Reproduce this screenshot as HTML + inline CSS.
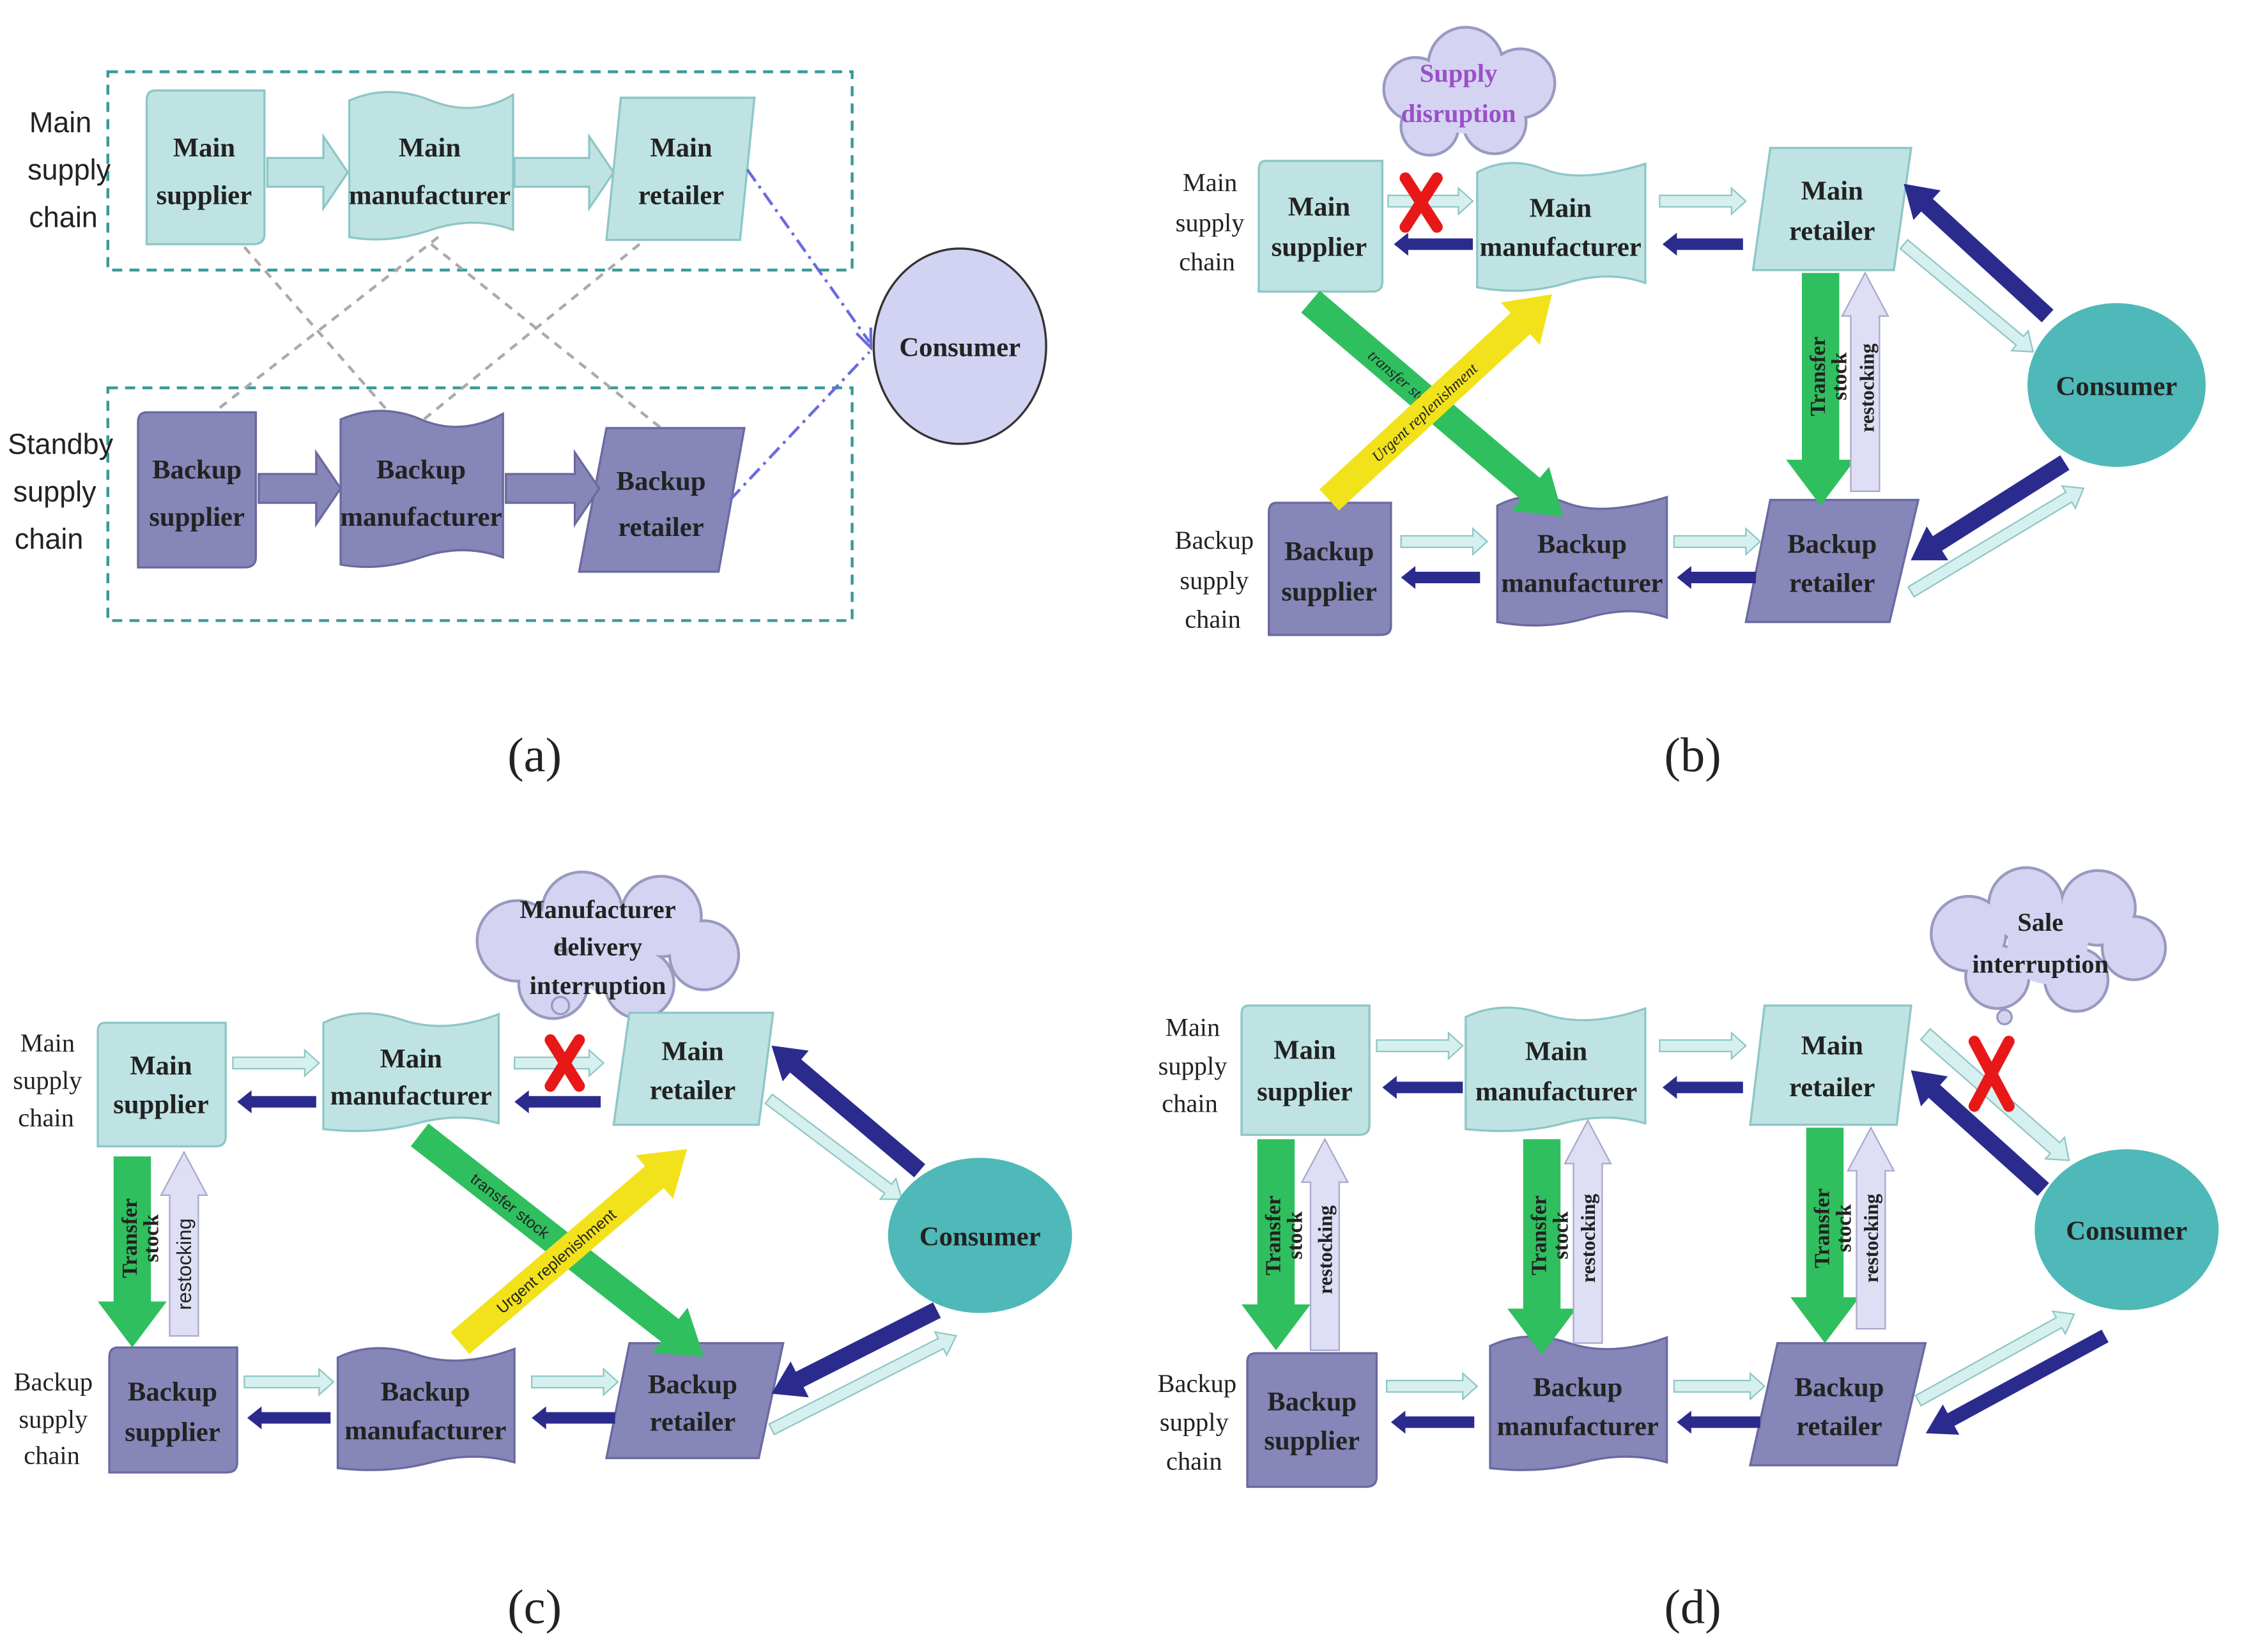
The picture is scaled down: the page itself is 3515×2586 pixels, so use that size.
<!DOCTYPE html>
<html><head><meta charset="utf-8"><style>
html,body{margin:0;padding:0;background:#fff;width:3515px;height:2586px;overflow:hidden}
svg{display:block}
text{font-family:"Liberation Serif",serif;fill:#222;text-anchor:middle}
.lb{font-size:19px;font-weight:bold}
.m{fill:#bfe3e3;stroke:#8fc6c6;stroke-width:1.5}
.b{fill:#8686b8;stroke:#6a6aa0;stroke-width:1.5}
.la{fill:#d6efef;stroke:#8fc6c6;stroke-width:1}
.da{fill:#2b2b8e}
.gr{fill:#2fbf5f}
.ye{fill:#f2e21c}
.lu{fill:#dedef4;stroke:#a8a8cc;stroke-width:1}
.cap{font-size:34px}
.cl circle{fill:#d4d4f2}
.sa text{font-family:"Liberation Sans",sans-serif;font-size:20px;fill:#222}
</style></head><body>
<svg width="3515" height="2586" viewBox="0 0 1563 1150" xmlns="http://www.w3.org/2000/svg">
<rect width="1563" height="1150" fill="#fff"/>

<!-- ================= (a) ================= -->
<rect x="75" y="50" width="518" height="138" fill="none" stroke="#3a9a9a" stroke-width="2" stroke-dasharray="7,5"/>
<rect x="75" y="270" width="518" height="162" fill="none" stroke="#3a9a9a" stroke-width="2" stroke-dasharray="7,5"/>
<g class="sa"><text x="42" y="92">Main</text><text x="48" y="125">supply</text><text x="44" y="158">chain</text>
<text x="42" y="316">Standby</text><text x="38" y="349">supply</text><text x="34" y="382">chain</text></g>
<g stroke="#aaa" stroke-width="2" stroke-dasharray="6,5" fill="none">
<line x1="170" y1="172" x2="282" y2="300"/><line x1="305" y1="165" x2="145" y2="290"/>
<line x1="300" y1="170" x2="460" y2="298"/><line x1="445" y1="170" x2="285" y2="300"/>
</g>
<path class="m" d="M108,63 H184 V163 Q184,170 176,170 H102 V70 Q102,63 108,63Z"/>
<path class="m" d="M243,70 Q270,58 300,70 T357,66 V160 Q330,150 300,160 T243,165Z"/>
<polygon class="m" points="432,68 525,68 515,167 422,167"/>
<polygon class="m" points="186,110 225,110 225,95 242,120 225,145 225,130 186,130"/>
<polygon class="m" points="358,110 410,110 410,95 427,120 410,145 410,130 358,130"/>
<path class="b" d="M102,287 H178 V388 Q178,395 170,395 H96 V294 Q96,287 102,287Z"/>
<path class="b" d="M237,292 Q265,280 293,292 T350,288 V388 Q322,378 293,388 T237,393Z"/>
<polygon class="b" points="422,298 518,298 500,398 403,398"/>
<polygon class="b" points="180,330 220,330 220,315 237,340 220,365 220,350 180,350"/>
<polygon class="b" points="352,330 400,330 400,315 417,340 400,365 400,350 352,350"/>
<g class="lb"><text x="142" y="109">Main</text><text x="142" y="142">supplier</text>
<text x="299" y="109">Main</text><text x="299" y="142">manufacturer</text>
<text x="474" y="109">Main</text><text x="474" y="142">retailer</text>
<text x="137" y="333">Backup</text><text x="137" y="366">supplier</text>
<text x="293" y="333">Backup</text><text x="293" y="366">manufacturer</text>
<text x="460" y="341">Backup</text><text x="460" y="373">retailer</text></g>
<g stroke="#6a6ae0" stroke-width="2" stroke-dasharray="10,4,2,4" fill="none">
<line x1="520" y1="118" x2="605" y2="238"/><line x1="508" y1="348" x2="605" y2="245"/></g>
<polyline points="596,232 606,242 606,228" fill="none" stroke="#6a6ae0" stroke-width="2"/>
<ellipse cx="668" cy="241" rx="60" ry="68" fill="#d2d2f2" stroke="#333" stroke-width="1.5"/>
<text class="lb" x="668" y="248">Consumer</text>
<text class="cap" x="372" y="537">(a)</text>

<!-- ================= (b) ================= -->
<g class="cl"><circle cx="985" cy="62" r="22" stroke="#9a9ac0" stroke-width="2"/><circle cx="1020" cy="45" r="26" stroke="#9a9ac0" stroke-width="2"/><circle cx="1058" cy="58" r="24" stroke="#9a9ac0" stroke-width="2"/><circle cx="1040" cy="85" r="22" stroke="#9a9ac0" stroke-width="2"/><circle cx="995" cy="88" r="20" stroke="#9a9ac0" stroke-width="2"/><circle cx="985" cy="62" r="21"/><circle cx="1020" cy="45" r="25"/><circle cx="1058" cy="58" r="23"/><circle cx="1040" cy="85" r="21"/><circle cx="995" cy="88" r="19"/><circle cx="1020" cy="68" r="25"/></g>
<text x="1015" y="57" style="font-size:18px;fill:#9a50c8;font-weight:bold">Supply</text>
<text x="1015" y="85" style="font-size:18px;fill:#9a50c8;font-weight:bold">disruption</text>
<g class="sa" style="font-size:18px"><text x="842" y="133" style="font-family:'Liberation Serif',serif;font-size:18px">Main</text><text x="842" y="161" style="font-family:'Liberation Serif',serif;font-size:18px">supply</text><text x="840" y="188" style="font-family:'Liberation Serif',serif;font-size:18px">chain</text>
<text x="845" y="382" style="font-family:'Liberation Serif',serif;font-size:18px">Backup</text><text x="845" y="410" style="font-family:'Liberation Serif',serif;font-size:18px">supply</text><text x="844" y="437" style="font-family:'Liberation Serif',serif;font-size:18px">chain</text></g>
<path class="m" d="M881,112 H962 V196 Q962,203 955,203 H876 V118 Q876,112 881,112Z"/>
<path class="m" d="M1028,120 Q1050,108 1075,118 T1145,114 V197 Q1120,188 1090,197 T1028,200Z"/>
<polygon class="m" points="1232,103 1330,103 1318,188 1220,188"/>
<path class="b" d="M888,350 H968 V436 Q968,442 961,442 H883 V357 Q883,350 888,350Z"/>
<path class="b" d="M1042,352 Q1065,340 1090,350 T1160,346 V430 Q1135,421 1105,430 T1042,433Z"/>
<polygon class="b" points="1232,348 1335,348 1315,433 1215,433"/>
<polygon class="la" points="966,136 1015,136 1015,131 1025,140 1015,149 1015,144 966,144"/>
<polygon class="da" points="1025,166 980,166 980,162 970,170 980,178 980,174 1025,174"/>
<polygon class="la" points="1155,136 1205,136 1205,131 1215,140 1205,149 1205,144 1155,144"/>
<polygon class="da" points="1213,166 1167,166 1167,162 1157,170 1167,178 1167,174 1213,174"/>
<polygon class="la" points="975,373 1025,373 1025,368 1035,377 1025,386 1025,381 975,381"/>
<polygon class="da" points="1030,398 985,398 985,394 975,402 985,410 985,406 1030,406"/>
<polygon class="la" points="1165,373 1215,373 1215,368 1225,377 1215,386 1215,381 1165,381"/>
<polygon class="da" points="1222,398 1177,398 1177,394 1167,402 1177,410 1177,406 1222,406"/>
<g transform="translate(912,210) rotate(40.4)"><polygon class="gr" points="0,-10 201,-10 201,-20 231,0 201,20 201,10 0,10"/><text x="85" y="4" style="font-size:11px;font-style:italic">transfer stock</text></g>
<g transform="translate(925,348) rotate(-42.7)"><polygon class="ye" points="0,-10 181,-10 181,-20 211,0 181,20 181,10 0,10"/><text x="90" y="4" style="font-size:11px;font-style:italic">Urgent replenishment</text></g>
<g transform="translate(1267,190) rotate(90)"><polygon class="gr" points="0,-13 130,-13 130,-24 162,0 130,24 130,13 0,13"/></g>
<g transform="translate(1298,342) rotate(-90)"><polygon class="lu" points="0,-10 122,-10 122,-16 152,0 122,16 122,10 0,10"/></g>
<text transform="translate(1270,262) rotate(-90)" style="font-size:15px;font-weight:bold">Transfer</text>
<text transform="translate(1285,262) rotate(-90)" style="font-size:15px;font-weight:bold">stock</text>
<text transform="translate(1304,270) rotate(-90)" style="font-size:14px;font-weight:bold">restocking</text>
<g transform="translate(1425,220) rotate(-137.4)"><polygon class="da" points="0,-6 114,-6 114,-14 136,0 114,14 114,6 0,6"/></g>
<g transform="translate(1325,170) rotate(39.8)"><polygon class="la" points="0,-4 105,-4 105,-9 117,0 105,9 105,4 0,4"/></g>
<g transform="translate(1437,322) rotate(147.6)"><polygon class="da" points="0,-6 105,-6 105,-14 127,0 105,14 105,6 0,6"/></g>
<g transform="translate(1330,412) rotate(-31)"><polygon class="la" points="0,-4 128,-4 128,-9 140,0 128,9 128,4 0,4"/></g>
<ellipse cx="1473" cy="268" rx="62" ry="57" fill="#4fb8b8"/>
<g class="lb"><text x="918" y="150">Main</text><text x="918" y="178">supplier</text>
<text x="1086" y="151">Main</text><text x="1086" y="178">manufacturer</text>
<text x="1275" y="139">Main</text><text x="1275" y="167">retailer</text>
<text x="925" y="390">Backup</text><text x="925" y="418">supplier</text>
<text x="1101" y="385">Backup</text><text x="1101" y="412">manufacturer</text>
<text x="1275" y="385">Backup</text><text x="1275" y="412">retailer</text>
<text x="1473" y="275">Consumer</text></g>
<g stroke="#e81818" stroke-width="8" stroke-linecap="round"><line x1="978" y1="124" x2="1000" y2="158"/><line x1="1000" y1="124" x2="978" y2="158"/></g>
<text class="cap" x="1178" y="537">(b)</text>

<!-- ================= (c) ================= -->
<g class="cl"><circle cx="360" cy="655" r="28" stroke="#9a9ac0" stroke-width="2"/><circle cx="405" cy="635" r="28" stroke="#9a9ac0" stroke-width="2"/><circle cx="460" cy="638" r="28" stroke="#9a9ac0" stroke-width="2"/><circle cx="490" cy="665" r="24" stroke="#9a9ac0" stroke-width="2"/><circle cx="445" cy="685" r="24" stroke="#9a9ac0" stroke-width="2"/><circle cx="385" cy="685" r="24" stroke="#9a9ac0" stroke-width="2"/><circle cx="360" cy="655" r="27"/><circle cx="405" cy="635" r="27"/><circle cx="460" cy="638" r="27"/><circle cx="490" cy="665" r="23"/><circle cx="445" cy="685" r="23"/><circle cx="385" cy="685" r="23"/><circle cx="425" cy="662" r="30"/><circle cx="390" cy="700" r="6" stroke="#9a9ac0" stroke-width="1.5"/></g>
<g class="lb" style="font-size:18px"><text x="416" y="639">Manufacturer</text><text x="416" y="665">delivery</text><text x="416" y="692">interruption</text></g>
<g style="font-size:18px"><text x="33" y="732">Main</text><text x="33" y="758">supply</text><text x="32" y="784">chain</text>
<text x="37" y="968">Backup</text><text x="37" y="994">supply</text><text x="36" y="1019">chain</text></g>
<path class="m" d="M73,712 H157 V791 Q157,798 150,798 H68 V718 Q68,712 73,712Z"/>
<path class="m" d="M225,712 Q250,700 280,710 T347,706 V782 Q320,774 290,782 T225,786Z"/>
<polygon class="m" points="438,705 538,705 528,783 427,783"/>
<path class="b" d="M82,938 H165 V1018 Q165,1025 158,1025 H76 V945 Q76,938 82,938Z"/>
<path class="b" d="M235,945 Q260,933 290,943 T358,939 V1018 Q330,1010 300,1018 T235,1022Z"/>
<polygon class="b" points="438,935 545,935 528,1015 422,1015"/>
<polygon class="la" points="162,736 212,736 212,731 222,740 212,749 212,744 162,744"/>
<polygon class="da" points="220,763 175,763 175,759 165,767 175,775 175,771 220,771"/>
<polygon class="la" points="358,736 410,736 410,731 420,740 410,749 410,744 358,744"/>
<polygon class="da" points="418,763 368,763 368,759 358,767 368,775 368,771 418,771"/>
<polygon class="la" points="170,958 222,958 222,953 232,962 222,971 222,966 170,966"/>
<polygon class="da" points="230,983 182,983 182,979 172,987 182,995 182,991 230,991"/>
<polygon class="la" points="370,958 420,958 420,953 430,962 420,971 420,966 370,966"/>
<polygon class="da" points="428,983 380,983 380,979 370,987 380,995 380,991 428,991"/>
<g transform="translate(92,805) rotate(90)"><polygon class="gr" points="0,-13 101,-13 101,-24 133,0 101,24 101,13 0,13"/></g>
<g transform="translate(128,930) rotate(-90)"><polygon class="lu" points="0,-10 98,-10 98,-16 128,0 98,16 98,10 0,10"/></g>
<text transform="translate(95,862) rotate(-90)" style="font-size:15px;font-weight:bold">Transfer</text>
<text transform="translate(110,862) rotate(-90)" style="font-size:15px;font-weight:bold">stock</text>
<text transform="translate(133,880) rotate(-90)" style="font-size:14px;font-family:'Liberation Sans',sans-serif">restocking</text>
<g transform="translate(292,790) rotate(38)"><polygon class="gr" points="0,-10 221,-10 221,-20 251,0 221,20 221,10 0,10"/><text x="80" y="4" style="font-size:11px;font-family:'Liberation Sans',sans-serif">transfer stock</text></g>
<g transform="translate(320,935) rotate(-40.5)"><polygon class="ye" points="0,-10 178,-10 178,-20 208,0 178,20 178,10 0,10"/><text x="88" y="4" style="font-size:11px;font-family:'Liberation Sans',sans-serif">Urgent replenishment</text></g>
<g transform="translate(640,815) rotate(-139.8)"><polygon class="da" points="0,-6 113,-6 113,-14 135,0 113,14 113,6 0,6"/></g>
<g transform="translate(535,765) rotate(37)"><polygon class="la" points="0,-4 104,-4 104,-9 116,0 104,9 104,4 0,4"/></g>
<g transform="translate(652,912) rotate(153.2)"><polygon class="da" points="0,-6 107,-6 107,-14 129,0 107,14 107,6 0,6"/></g>
<g transform="translate(537,995) rotate(-26.9)"><polygon class="la" points="0,-4 132,-4 132,-9 144,0 132,9 132,4 0,4"/></g>
<ellipse cx="682" cy="860" rx="64" ry="54" fill="#4fb8b8"/>
<g class="lb"><text x="112" y="748">Main</text><text x="112" y="775">supplier</text>
<text x="286" y="743">Main</text><text x="286" y="769">manufacturer</text>
<text x="482" y="738">Main</text><text x="482" y="765">retailer</text>
<text x="120" y="975">Backup</text><text x="120" y="1003">supplier</text>
<text x="296" y="975">Backup</text><text x="296" y="1002">manufacturer</text>
<text x="482" y="970">Backup</text><text x="482" y="996">retailer</text>
<text x="682" y="867">Consumer</text></g>
<g stroke="#e81818" stroke-width="8" stroke-linecap="round"><line x1="383" y1="724" x2="403" y2="756"/><line x1="403" y1="724" x2="383" y2="756"/></g>
<text class="cap" x="372" y="1130">(c)</text>

<!-- ================= (d) ================= -->
<g class="cl"><circle cx="1370" cy="650" r="26" stroke="#9a9ac0" stroke-width="2"/><circle cx="1410" cy="630" r="26" stroke="#9a9ac0" stroke-width="2"/><circle cx="1460" cy="632" r="26" stroke="#9a9ac0" stroke-width="2"/><circle cx="1485" cy="660" r="22" stroke="#9a9ac0" stroke-width="2"/><circle cx="1445" cy="682" r="22" stroke="#9a9ac0" stroke-width="2"/><circle cx="1390" cy="680" r="22" stroke="#9a9ac0" stroke-width="2"/><circle cx="1370" cy="650" r="25"/><circle cx="1410" cy="630" r="25"/><circle cx="1460" cy="632" r="25"/><circle cx="1485" cy="660" r="21"/><circle cx="1445" cy="682" r="21"/><circle cx="1390" cy="680" r="21"/><circle cx="1425" cy="657" r="28"/><circle cx="1395" cy="708" r="5" stroke="#9a9ac0" stroke-width="1.5"/></g>
<g class="lb" style="font-size:18px"><text x="1420" y="648">Sale</text><text x="1420" y="677">interruption</text></g>
<g style="font-size:18px"><text x="830" y="721">Main</text><text x="830" y="748">supply</text><text x="828" y="774">chain</text>
<text x="833" y="969">Backup</text><text x="831" y="996">supply</text><text x="831" y="1023">chain</text></g>
<path class="m" d="M869,700 H953 V783 Q953,790 946,790 H864 V706 Q864,700 869,700Z"/>
<path class="m" d="M1020,708 Q1045,696 1075,706 T1145,702 V782 Q1118,774 1088,782 T1020,786Z"/>
<polygon class="m" points="1228,700 1330,700 1320,783 1218,783"/>
<path class="b" d="M874,942 H958 V1028 Q958,1035 951,1035 H868 V948 Q868,942 874,942Z"/>
<path class="b" d="M1037,937 Q1062,925 1092,935 T1160,931 V1018 Q1132,1010 1102,1018 T1037,1022Z"/>
<polygon class="b" points="1237,935 1340,935 1320,1020 1218,1020"/>
<polygon class="la" points="958,724 1008,724 1008,719 1018,728 1008,737 1008,732 958,732"/>
<polygon class="da" points="1018,753 972,753 972,749 962,757 972,765 972,761 1018,761"/>
<polygon class="la" points="1155,724 1205,724 1205,719 1215,728 1205,737 1205,732 1155,732"/>
<polygon class="da" points="1213,753 1167,753 1167,749 1157,757 1167,765 1167,761 1213,761"/>
<polygon class="la" points="965,961 1018,961 1018,956 1028,965 1018,974 1018,969 965,969"/>
<polygon class="da" points="1026,986 978,986 978,982 968,990 978,998 978,994 1026,994"/>
<polygon class="la" points="1165,961 1218,961 1218,956 1228,965 1218,974 1218,969 1165,969"/>
<polygon class="da" points="1225,986 1177,986 1177,982 1167,990 1177,998 1177,994 1225,994"/>
<g transform="translate(888,793) rotate(90)"><polygon class="gr" points="0,-13 115,-13 115,-24 147,0 115,24 115,13 0,13"/></g>
<g transform="translate(922,940) rotate(-90)"><polygon class="lu" points="0,-10 117,-10 117,-16 147,0 117,16 117,10 0,10"/></g>
<g transform="translate(1073,793) rotate(90)"><polygon class="gr" points="0,-13 118,-13 118,-24 150,0 118,24 118,13 0,13"/></g>
<g transform="translate(1105,935) rotate(-90)"><polygon class="lu" points="0,-10 125,-10 125,-16 155,0 125,16 125,10 0,10"/></g>
<g transform="translate(1270,785) rotate(90)"><polygon class="gr" points="0,-13 118,-13 118,-24 150,0 118,24 118,13 0,13"/></g>
<g transform="translate(1302,925) rotate(-90)"><polygon class="lu" points="0,-10 110,-10 110,-16 140,0 110,16 110,10 0,10"/></g>
<g style="font-size:15px;font-weight:bold">
<text transform="translate(891,860) rotate(-90)">Transfer</text><text transform="translate(906,860) rotate(-90)">stock</text><text transform="translate(927,870) rotate(-90)" style="font-size:14px">restocking</text>
<text transform="translate(1076,860) rotate(-90)">Transfer</text><text transform="translate(1091,860) rotate(-90)">stock</text><text transform="translate(1110,862) rotate(-90)" style="font-size:14px">restocking</text>
<text transform="translate(1273,855) rotate(-90)">Transfer</text><text transform="translate(1288,855) rotate(-90)">stock</text><text transform="translate(1307,862) rotate(-90)" style="font-size:14px">restocking</text></g>
<g transform="translate(1422,828) rotate(-138)"><polygon class="da" points="0,-6 102,-6 102,-14 124,0 102,14 102,6 0,6"/></g>
<g transform="translate(1340,720) rotate(41.3)"><polygon class="la" points="0,-5 120,-5 120,-10 133,0 120,10 120,5 0,5"/></g>
<g transform="translate(1335,975) rotate(-29)"><polygon class="la" points="0,-4 112,-4 112,-9 124,0 112,9 112,4 0,4"/></g>
<g transform="translate(1465,930) rotate(151.5)"><polygon class="da" points="0,-5 122,-5 122,-12 142,0 122,12 122,5 0,5"/></g>
<ellipse cx="1480" cy="856" rx="64" ry="56" fill="#4fb8b8"/>
<g class="lb"><text x="908" y="737">Main</text><text x="908" y="766">supplier</text>
<text x="1083" y="738">Main</text><text x="1083" y="766">manufacturer</text>
<text x="1275" y="734">Main</text><text x="1275" y="763">retailer</text>
<text x="913" y="982">Backup</text><text x="913" y="1009">supplier</text>
<text x="1098" y="972">Backup</text><text x="1098" y="999">manufacturer</text>
<text x="1280" y="972">Backup</text><text x="1280" y="999">retailer</text>
<text x="1480" y="863">Consumer</text></g>
<g stroke="#e81818" stroke-width="8" stroke-linecap="round"><line x1="1374" y1="725" x2="1398" y2="770"/><line x1="1398" y1="725" x2="1374" y2="770"/></g>
<text class="cap" x="1178" y="1130">(d)</text>
</svg>
</body></html>
